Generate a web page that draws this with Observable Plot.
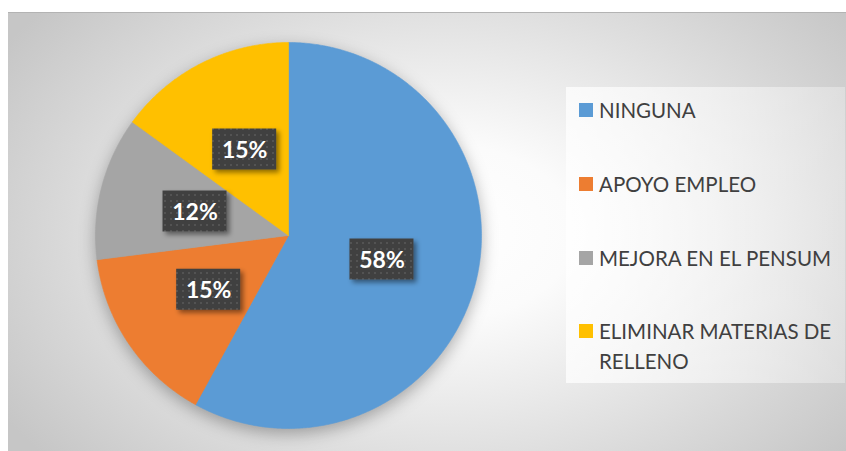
<!DOCTYPE html>
<html>
<head>
<meta charset="utf-8">
<script src="https://cdn.jsdelivr.net/npm/d3@7"></script>
<script src="https://cdn.jsdelivr.net/npm/@observablehq/plot@0.6"></script>
<style>
  body { margin: 0; background: #ffffff; }
  #wrap { position: relative; width: 846px; height: 451px; overflow: hidden; font-family: Lato, "Open Sans", sans-serif; }
  #bg { position: absolute; left: 8px; top: 12px; width: 838px; height: 439px; box-sizing: border-box;
        border-top: 1px solid #b3b3b3;
        background: radial-gradient(ellipse 62% 80% at 52% 50%, #ffffff 0%, #fbfbfb 25%, #c6c6c6 100%); }
  #chart { position: absolute; left: 0; top: 0; }
  #legend { position: absolute; left: 566px; top: 87px; width: 279px; height: 296px;
            background: linear-gradient(90deg, rgba(255,255,255,0.75), rgba(255,255,255,0.3)); }
  .item { position: absolute; left: 0; width: 279px; }
  .sw { position: absolute; left: 13px; top: 8px; width: 14px; height: 14px; }
  .lab { position: absolute; left: 33px; top: 0; width: 240px; font-size: 20.5px; line-height: 30px; color: #404040; }
</style>
</head>
<body>
<div id="wrap">
  <div id="bg"></div>
  <div id="chart"></div>
  <div id="legend"></div>
</div>
<script>
const categories = ["NINGUNA", "APOYO EMPLEO", "MEJORA EN EL PENSUM", "ELIMINAR MATERIAS DE RELLENO"];
const values = [58, 15, 12, 15];
const labels = ["58%", "15%", "12%", "15%"];
const colors = ["#5b9bd5", "#ed7d31", "#a5a5a5", "#ffc000"];

const total = d3.sum(values);
let acc = 0;
const slices = values.map((v, i) => {
  const a0 = acc / total * 2 * Math.PI;
  acc += v;
  const a1 = acc / total * 2 * Math.PI;
  return {cat: categories[i], a0, a1, mid: (a0 + a1) / 2, label: labels[i]};
});

const outline = slices.flatMap(s => {
  const n = Math.max(2, Math.ceil((s.a1 - s.a0) / (Math.PI / 360)));
  const pts = [{cat: s.cat, x: 0, y: 0}];
  for (let k = 0; k <= n; k++) {
    const a = s.a0 + (s.a1 - s.a0) * k / n;
    pts.push({cat: s.cat, x: Math.sin(a), y: Math.cos(a)});
  }
  pts.push({cat: s.cat, x: 0, y: 0});
  return pts;
});

const chart = Plot.plot({
  width: 846,
  height: 451,
  marginLeft: 95,
  marginRight: 365,
  marginTop: 42,
  marginBottom: 23,
  x: {domain: [-1, 1], axis: null},
  y: {domain: [-1, 1], axis: null},
  color: {domain: categories, range: colors},
  style: {background: "transparent", overflow: "visible"},
  marks: [
    Plot.line(outline, {x: "x", y: "y", z: "cat", fill: "cat", stroke: "cat", strokeWidth: 0.6}),
    Plot.text(slices, {
      x: d => 0.5 * Math.sin(d.mid),
      y: d => 0.5 * Math.cos(d.mid),
      text: "label",
      fill: "white",
      fontSize: 23,
      fontWeight: "bold",
      fontFamily: "Lato, sans-serif",
      dy: 1,
      render(index, scales, vals, dims, context, next) {
        const ns = "http://www.w3.org/2000/svg";
        const g = context.document.createElementNS(ns, "g");
        for (const i of index) {
          const r = context.document.createElementNS(ns, "rect");
          r.setAttribute("x", vals.x[i] - 32);
          r.setAttribute("y", vals.y[i] - 20.5);
          r.setAttribute("width", 64);
          r.setAttribute("height", 41);
          r.setAttribute("fill", "url(#dots)");
          r.setAttribute("filter", "url(#boxshadow)");
          g.appendChild(r);
        }
        g.appendChild(next(index, scales, vals, dims, context));
        return g;
      }
    })
  ]
});

// defs: dotted pattern + shadow
const svg = d3.select(chart);
const defs = svg.insert("defs", ":first-child");
const pat = defs.append("pattern").attr("id", "dots").attr("patternUnits", "userSpaceOnUse")
  .attr("width", 6).attr("height", 6);
pat.append("rect").attr("width", 6).attr("height", 6).attr("fill", "#3f3f3f");
pat.append("rect").attr("x", 2).attr("y", 2).attr("width", 2).attr("height", 2).attr("fill", "#525252");
const f = defs.append("filter").attr("id", "boxshadow").attr("x", "-30%").attr("y", "-30%").attr("width", "170%").attr("height", "170%");
f.append("feDropShadow").attr("dx", 3).attr("dy", 3).attr("stdDeviation", 2.5).attr("flood-color", "#000").attr("flood-opacity", 0.45);
svg.select('g[aria-label="line"]').style("filter", "drop-shadow(0px 5px 8px rgba(0,0,0,0.3))");

document.getElementById("chart").appendChild(chart);

// legend
const legend = d3.select("#legend");
categories.forEach((c, i) => {
  const item = legend.append("div").attr("class", "item").style("top", (110 + i * 73.8 - 87 - 15) + "px");
  item.append("div").attr("class", "sw").style("background", colors[i]);
  item.append("div").attr("class", "lab").text(c);
});
</script>
</body>
</html>
